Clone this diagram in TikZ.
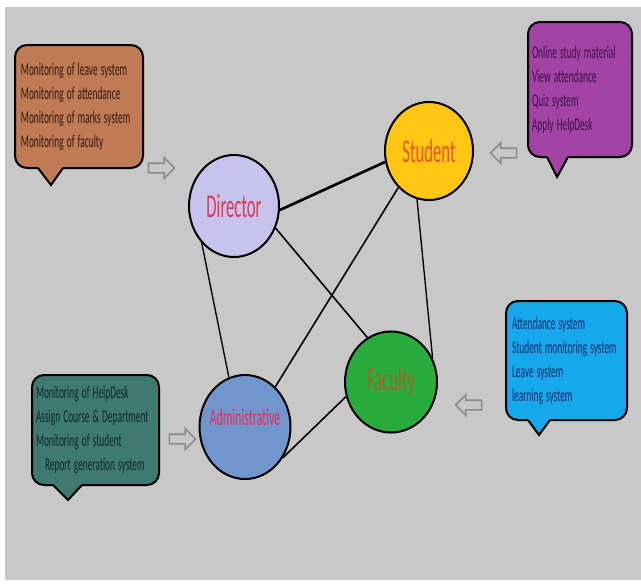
\documentclass[tikz,border=0pt]{standalone}
\usepackage{fontspec}
\usepackage{graphicx}
\setmainfont{Carlito}
\usetikzlibrary{shapes.geometric,shapes.arrows,calc}
\definecolor{bggray}{RGB}{200,200,200}
\definecolor{boxbrown}{RGB}{192,122,84}
\definecolor{boxpurple}{RGB}{163,67,166}
\definecolor{boxteal}{RGB}{62,122,114}
\definecolor{boxblue}{RGB}{21,168,236}
\definecolor{browntext}{RGB}{50,25,15}
\definecolor{purpletext}{RGB}{60,15,70}
\definecolor{tealtext}{RGB}{15,40,40}
\definecolor{bluetext}{RGB}{20,40,100}
\definecolor{directorfill}{RGB}{200,195,236}
\definecolor{studentfill}{RGB}{255,198,20}
\definecolor{adminfill}{RGB}{113,150,206}
\definecolor{facultyfill}{RGB}{40,172,62}
\definecolor{directortext}{RGB}{228,52,84}
\definecolor{studenttext}{RGB}{232,88,28}
\definecolor{admintext}{RGB}{232,42,80}
\definecolor{facultytext}{RGB}{166,96,42}
\newcommand{\boxlines}[1]{\scalebox{0.52}[1]{\begin{tabular}{@{}l@{}}#1\end{tabular}}}
\newcommand{\hubname}[1]{\scalebox{0.5}[1]{#1}}
\begin{document}
\begin{tikzpicture}[x=0.75pt,y=-0.75pt,
hub/.style = {draw=black, line width=1.5pt, ellipse, inner sep=0pt},
hub-label/.style = {font={\fontsize{25}{30}\selectfont}},
info-box/.style = {draw=black, line width=1.5pt, rounded corners=9pt, align=left,
    inner ysep=0pt, outer sep=0pt, font={\fontsize{13.5}{18}\selectfont}},
tail/.style = {draw=black, line width=1.5pt, line join=miter},
link/.style = {draw=black, line width=1.2pt},
hollow-arrow/.style = {single arrow, draw={black!45}, line width=1.2pt, fill=bggray,
    minimum height=19.5pt, inner xsep=0pt, inner ysep=3pt, single arrow head extend=4pt}
]
\useasboundingbox (0,0) rectangle (641,583);
\fill[bggray] (5,7) rectangle (641,580);

\node[hub, fill=directorfill, minimum width=67.5pt, minimum height=76.5pt,
    label={[hub-label, text=directortext]center:\hubname{Director}}] (director) at (234,206) {};
\node[hub, fill=studentfill, minimum width=66pt, minimum height=73.5pt,
    label={[hub-label, text=studenttext]center:\hubname{Student}}] (student) at (429,151) {};
\node[hub, fill=adminfill, minimum width=68.25pt, minimum height=78pt,
    label={[hub-label, font={\fontsize{18}{22}\selectfont}, text=admintext, yshift=7.5pt]center:\hubname{Administrative}}] (admin) at (245,427) {};
\node[hub, fill=facultyfill, minimum width=69pt, minimum height=75.75pt,
    label={[hub-label, text=facultytext]center:\hubname{Faculty}}] (faculty) at (391,382) {};

\draw[link, line width=2pt] (director.-5) -- (student.194);
\draw[link] (director.-28) -- (faculty.118);
\draw[link, line width=1pt] (director.229) -- (admin.108);
\draw[link] (student.230) -- (admin.53);
\draw[link, line width=1pt] (student.256) -- (faculty.30);
\draw[link] (admin.-39) -- (faculty.198);

\node[info-box, fill=boxbrown, text=browntext, text width=87pt, inner xsep=4.5pt,
    minimum height=92.25pt] (director-box) at (79,106.5)
    {\boxlines{Monitoring of leave system\\Monitoring of attendance\\Monitoring of marks system\\Monitoring of faculty}};
\coordinate (director-tip) at (51,185);
\fill[boxbrown] ($(director-box.south west)+(23,-3)$) rectangle ($(director-box.south west)+(48,1)$);
\draw[tail, fill=boxbrown] ($(director-box.south west)+(23,0)$) -- (director-tip) -- ($(director-box.south west)+(48,0)$);

\node[info-box, fill=boxpurple, text=purpletext, text width=72pt, inner xsep=3pt,
    minimum height=101.25pt] (student-box) at (580,89.5)
    {\boxlines{Online study material\\View attendance\\Quiz system\\Apply HelpDesk}};
\coordinate (student-tip) at (557,177);
\fill[boxpurple] ($(student-box.south west)+(19,-3)$) rectangle ($(student-box.south west)+(40,1)$);
\draw[tail, fill=boxpurple] ($(student-box.south west)+(19,0)$) -- (student-tip) -- ($(student-box.south west)+(40,0)$);

\node[info-box, fill=boxteal, text=tealtext, text width=89.25pt, inner xsep=3pt,
    minimum height=82.5pt] (admin-box) at (95.5,430)
    {\boxlines{Monitoring of HelpDesk\\Assign Course \& Department\\Monitoring of student\\\hspace*{13pt}Report generation system}};
\coordinate (admin-tip) at (68,500);
\fill[boxteal] ($(admin-box.south west)+(21,-3)$) rectangle ($(admin-box.south west)+(50,1)$);
\draw[tail, fill=boxteal] ($(admin-box.south west)+(21,0)$) -- (admin-tip) -- ($(admin-box.south west)+(50,0)$);

\node[info-box, fill=boxblue, text=bluetext, text width=81.75pt, inner xsep=4.5pt,
    minimum height=89.25pt] (faculty-box) at (566.5,360.5)
    {\boxlines{Attendance system\\Student monitoring system\\Leave system\\learning system}};
\coordinate (faculty-tip) at (539,435);
\fill[boxblue] ($(faculty-box.south west)+(22,-3)$) rectangle ($(faculty-box.south west)+(44,1)$);
\draw[tail, fill=boxblue] ($(faculty-box.south west)+(22,0)$) -- (faculty-tip) -- ($(faculty-box.south west)+(44,0)$);

\node[hollow-arrow] (director-arrow) at (159,168) {};
\node[hollow-arrow, shape border rotate=180] (student-arrow) at (506,153) {};
\node[hollow-arrow] (admin-arrow) at (180,439) {};
\node[hollow-arrow, shape border rotate=180] (faculty-arrow) at (471,405) {};
\end{tikzpicture}
\end{document}
